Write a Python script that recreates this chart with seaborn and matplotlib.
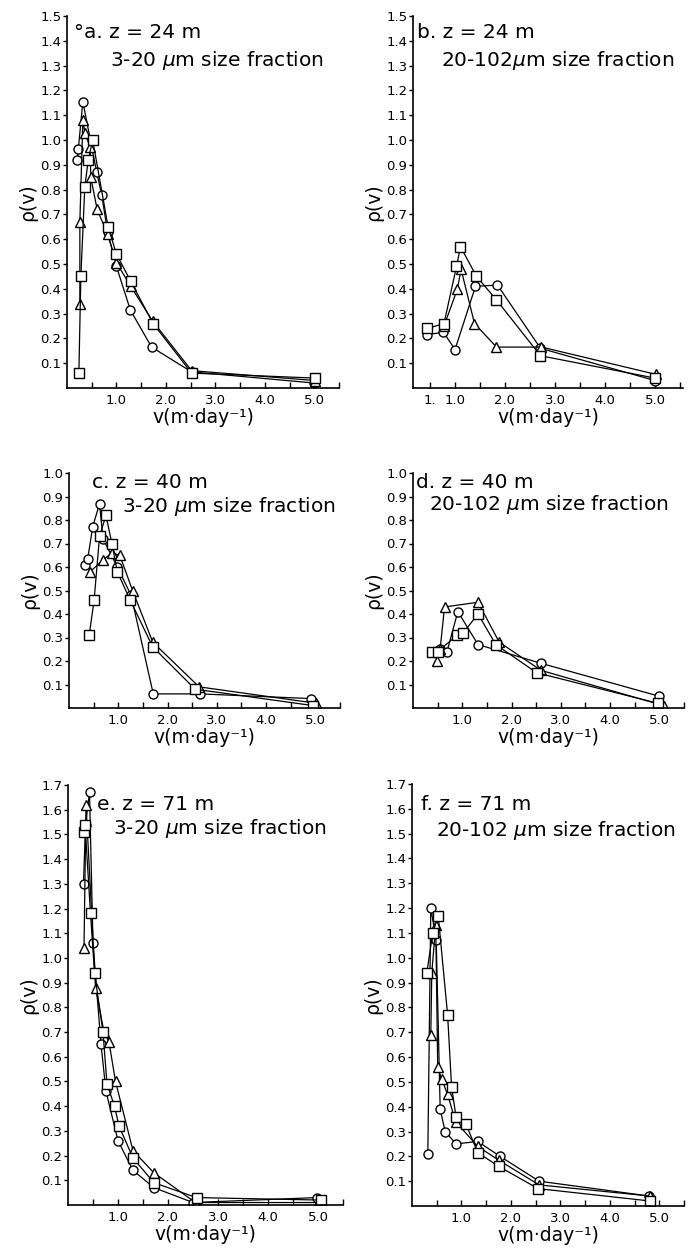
import numpy as np
import pandas as pd
import seaborn as sns
import matplotlib.pyplot as plt

sns.set_style("ticks")
plt.rcParams["font.family"] = ["DejaVu Sans"]
plt.rcParams.update({"text.color": "black", "axes.labelcolor": "black",
                     "xtick.color": "black", "ytick.color": "black",
                     "axes.edgecolor": "black"})

## Data: settling velocity v (m/day) and rho(v), three series per panel
# a. z = 24 m, 3-20 um
a_circ_v = [0.21, 0.23, 0.32, 0.60, 0.70, 0.82, 1.00, 1.28, 1.71, 2.52, 5.00]
a_circ_p = [0.92, 0.965, 1.155, 0.87, 0.78, 0.63, 0.49, 0.315, 0.165, 0.065, 0.02]
a_tri_v = [0.26, 0.26, 0.32, 0.36, 0.47, 0.48, 0.61, 0.82, 1.00, 1.29, 1.73, 2.52, 5.02]
a_tri_p = [0.34, 0.67, 1.08, 1.03, 0.97, 0.85, 0.72, 0.62, 0.505, 0.41, 0.27, 0.07, 0.03]
a_sq_v = [0.24, 0.28, 0.36, 0.43, 0.52, 0.83, 1.00, 1.29, 1.74, 2.52, 5.02]
a_sq_p = [0.06, 0.45, 0.81, 0.92, 1.00, 0.65, 0.54, 0.43, 0.26, 0.06, 0.04]

# b. z = 24 m, 20-102 um
b_circ_v = [0.45, 0.77, 1.00, 1.41, 1.85, 2.71, 5.00]
b_circ_p = [0.215, 0.225, 0.155, 0.41, 0.415, 0.16, 0.03]
b_tri_v = [0.78, 1.05, 1.12, 1.39, 1.83, 2.73, 5.02]
b_tri_p = [0.25, 0.40, 0.48, 0.26, 0.165, 0.165, 0.055]
b_sq_v = [0.45, 0.78, 1.03, 1.11, 1.43, 1.83, 2.71, 5.00]
b_sq_p = [0.24, 0.26, 0.49, 0.57, 0.45, 0.355, 0.13, 0.04]

# c. z = 40 m, 3-20 um
c_circ_v = [0.32, 0.38, 0.48, 0.62, 0.69, 0.98, 1.26, 1.71, 2.66, 4.92]
c_circ_p = [0.61, 0.635, 0.77, 0.87, 0.72, 0.60, 0.48, 0.06, 0.06, 0.04]
c_tri_v = [0.43, 0.69, 0.87, 1.03, 1.29, 1.70, 2.64, 5.02]
c_tri_p = [0.58, 0.63, 0.66, 0.65, 0.50, 0.28, 0.09, 0.02]
c_sq_v = [0.41, 0.51, 0.62, 0.75, 0.87, 0.98, 1.24, 1.70, 2.56, 4.96]
c_sq_p = [0.31, 0.46, 0.73, 0.82, 0.70, 0.58, 0.46, 0.26, 0.08, 0.01]

# d. z = 40 m, 20-102 um
d_circ_v = [0.55, 0.69, 0.91, 1.32, 2.60, 5.00]
d_circ_p = [0.25, 0.24, 0.41, 0.27, 0.19, 0.05]
d_tri_v = [0.48, 0.55, 0.64, 1.32, 1.75, 2.60, 5.09]
d_tri_p = [0.20, 0.25, 0.43, 0.45, 0.28, 0.16, 0.01]
d_sq_v = [0.39, 0.50, 0.90, 1.02, 1.32, 1.68, 2.51, 4.97]
d_sq_p = [0.24, 0.24, 0.31, 0.32, 0.40, 0.27, 0.15, 0.02]

# e. z = 71 m, 3-20 um
e_circ_v = [0.31, 0.35, 0.43, 0.50, 0.66, 0.76, 1.00, 1.30, 1.72, 2.50, 4.97]
e_circ_p = [1.30, 1.54, 1.67, 1.06, 0.65, 0.46, 0.26, 0.14, 0.07, 0.01, 0.03]
e_tri_v = [0.32, 0.36, 0.55, 0.72, 0.82, 0.95, 1.30, 1.72, 2.55, 5.00]
e_tri_p = [1.04, 1.62, 0.88, 0.70, 0.66, 0.50, 0.22, 0.13, 0.01, 0.01]
e_sq_v = [0.32, 0.34, 0.45, 0.53, 0.70, 0.78, 0.93, 1.02, 1.30, 1.72, 2.57, 5.05]
e_sq_p = [1.51, 1.54, 1.18, 0.94, 0.70, 0.49, 0.40, 0.32, 0.19, 0.09, 0.03, 0.02]

# f. z = 71 m, 20-102 um
f_circ_v = [0.32, 0.38, 0.49, 0.57, 0.67, 0.89, 1.33, 1.78, 2.57, 4.80]
f_circ_p = [0.21, 1.20, 1.07, 0.39, 0.30, 0.25, 0.26, 0.20, 0.10, 0.04]
f_tri_v = [0.38, 0.40, 0.48, 0.52, 0.60, 0.72, 0.88, 1.33, 1.75, 2.57, 4.82]
f_tri_p = [0.69, 0.94, 1.13, 0.56, 0.51, 0.45, 0.34, 0.24, 0.185, 0.085, 0.04]
f_sq_v = [0.30, 0.42, 0.53, 0.72, 0.80, 0.89, 1.09, 1.33, 1.75, 2.55, 4.82]
f_sq_p = [0.94, 1.10, 1.17, 0.77, 0.48, 0.36, 0.33, 0.215, 0.16, 0.07, 0.02]

a_title = ["\u00b0a. z = 24 m", r"3-20 $\mu$m size fraction"]
b_title = ["b. z = 24 m", r"20-102$\mu$m size fraction"]
c_title = ["c. z = 40 m", r"3-20 $\mu$m size fraction"]
d_title = ["d. z = 40 m", r"20-102 $\mu$m size fraction"]
e_title = ["e. z = 71 m", r"3-20 $\mu$m size fraction"]
f_title = ["f. z = 71 m", r"20-102 $\mu$m size fraction"]


def panel_df(circ, tri, sq):
    parts = []
    for name, (v, p) in zip(["circle", "triangle", "square"], [circ, tri, sq]):
        parts.append(pd.DataFrame({"v": v, "p": p, "set": name}))
    return pd.concat(parts, ignore_index=True)


W, H = 688, 1251
fig = plt.figure(figsize=(W / 100, H / 100), dpi=100)


def px_axes(left, right, top, bottom):
    return fig.add_axes([left / W, 1 - bottom / H, (right - left) / W, (bottom - top) / H])


panels = [
    # data, ymax, xlim, box (left, right, top, bottom), title, title positions
    (panel_df((a_circ_v, a_circ_p), (a_tri_v, a_tri_p), (a_sq_v, a_sq_p)), 1.5, (0, 5.5),
     (67, 339, 16, 388), a_title, [(74, 32), (110, 60)], False),
    (panel_df((b_circ_v, b_circ_p), (b_tri_v, b_tri_p), (b_sq_v, b_sq_p)), 1.5, (0.16, 5.56),
     (413, 683, 16, 388), b_title, [(417, 32), (441, 60)], True),
    (panel_df((c_circ_v, c_circ_p), (c_tri_v, c_tri_p), (c_sq_v, c_sq_p)), 1.0, (0, 5.5),
     (69, 340, 473, 708), c_title, [(92, 482), (122, 507)], False),
    (panel_df((d_circ_v, d_circ_p), (d_tri_v, d_tri_p), (d_sq_v, d_sq_p)), 1.0, (0, 5.5),
     (413, 684, 473, 708), d_title, [(416, 482), (429, 505)], False),
    (panel_df((e_circ_v, e_circ_p), (e_tri_v, e_tri_p), (e_sq_v, e_sq_p)), 1.7, (0, 5.5),
     (68, 343, 785, 1205), e_title, [(97, 805), (113, 828)], False),
    (panel_df((f_circ_v, f_circ_p), (f_tri_v, f_tri_p), (f_sq_v, f_sq_p)), 1.7, (0, 5.45),
     (412, 684, 784, 1206), f_title, [(421, 805), (436, 830)], False),
]

for df, ymax, xlim, box, title, tpos, odd_label in panels:
    ax = px_axes(*box)
    sns.lineplot(
        ax=ax,
        data=df,
        x="v",
        y="p",
        style="set",
        markers={"circle": "o", "triangle": "^", "square": "s"},
        dashes=False,
        sort=False,
        estimator=None,
        color="black",
        markerfacecolor="white",
        markeredgecolor="black",
        markersize=6.5,
        markeredgewidth=1.0,
        linewidth=0.9,
        legend=False,
    )
    ax.set_xlim(*xlim)
    ax.set_ylim(0, ymax)
    yt = np.round(np.arange(1, int(round(ymax * 10)) + 1) / 10, 1)
    ax.set_yticks(yt)
    ax.set_yticklabels([f"{t:.1f}" for t in yt])
    xt = np.arange(0.5, 5.51, 0.5)
    ax.set_xticks(xt)
    xl = [f"{t:.1f}" if t == int(t) else "" for t in xt]
    if odd_label:
        xl[0] = "1."
    ax.set_xticklabels(xl)
    ax.tick_params(axis="x", direction="in", length=4, width=1, labelsize=9.5, pad=4)
    ax.tick_params(axis="y", direction="out", length=3, width=1, labelsize=9.5, pad=1)
    for s in ["top", "right"]:
        ax.spines[s].set_visible(False)
    for s in ["left", "bottom"]:
        ax.spines[s].set_linewidth(1.2)
    ax.set_xlabel("v(m\u00b7day\u207b\u00b9)", fontsize=13.5, labelpad=1)
    ax.set_ylabel("\u03c1(v)", fontsize=13.5, labelpad=2)
    for txt, (tx, ty) in zip(title, tpos):
        fig.text(tx / W, 1 - ty / H, txt, fontsize=14.5, ha="left", va="center")

fig.savefig("out.png", dpi=100, facecolor="white")
